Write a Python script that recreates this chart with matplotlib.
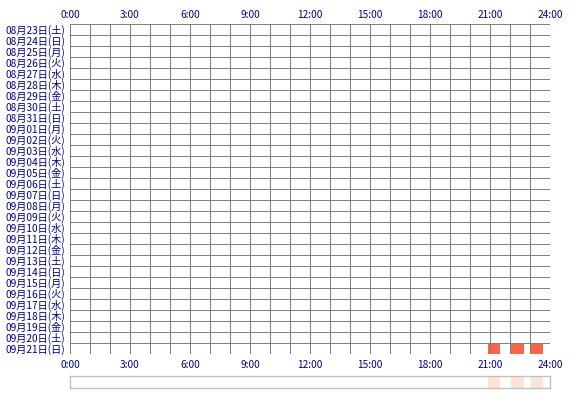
import matplotlib
matplotlib.use("Agg")
import matplotlib.pyplot as plt

plt.rcParams['font.family'] = ['Noto Sans CJK JP', 'DejaVu Sans']

days = ["08月23日(土)", "08月24日(日)", "08月25日(月)", "08月26日(火)", "08月27日(水)",
        "08月28日(木)", "08月29日(金)", "08月30日(土)", "08月31日(日)", "09月01日(月)",
        "09月02日(火)", "09月03日(水)", "09月04日(木)", "09月05日(金)", "09月06日(土)",
        "09月07日(日)", "09月08日(月)", "09月09日(火)", "09月10日(水)", "09月11日(木)",
        "09月12日(金)", "09月13日(土)", "09月14日(日)", "09月15日(月)", "09月16日(火)",
        "09月17日(水)", "09月18日(木)", "09月19日(金)", "09月20日(土)", "09月21日(日)"]
hour_ticks = [0, 3, 6, 9, 12, 15, 18, 21, 24]
hour_labels = ["0:00", "3:00", "6:00", "9:00", "12:00", "15:00", "18:00", "21:00", "24:00"]

# activity blocks: day index, start hour, end hour
act_day = [29, 29, 29]
act_start = [20.88, 22.03, 23.05]
act_end = [21.52, 22.70, 23.65]

W, H = 570, 400
fig = plt.figure(figsize=(W / 100, H / 100), dpi=100)
navy = "#000080"
gridc = "#808080"

ax = fig.add_axes([70 / W, (H - 354) / H, 480 / W, 330 / H])
ax.set_xlim(0, 24)
ax.set_ylim(len(days), 0)
for d, s, e in zip(act_day, act_start, act_end):
    ax.barh(d + 0.5, e - s, left=s, height=1.0, color="#ff6347", zorder=1)
ax.vlines(range(25), 0, len(days), color=gridc, lw=0.72, zorder=2, antialiased=False)
ax.hlines(range(len(days) + 1), 0, 24, color=gridc, lw=0.72, zorder=2, antialiased=False)
for sp in ax.spines.values():
    sp.set_visible(False)
ax.set_xticks([])
ax.set_yticks([])

for t, lab in zip(hour_ticks, hour_labels):
    ax.text(t, -0.8, lab, ha="center", va="center", color=navy, fontsize=7.3)
    ax.text(t, len(days) + 1.0, lab, ha="center", va="center", color=navy, fontsize=7.3)
for i, lab in enumerate(days):
    ax.text(-0.25, i + 0.55, lab, ha="right", va="center", color=navy, fontsize=7.3)

# summary strip
ax2 = fig.add_axes([70 / W, (H - 388) / H, 480 / W, 12 / H])
ax2.set_xlim(0, 24)
ax2.set_ylim(0, 1)
for s, e in zip(act_start, act_end):
    ax2.barh(0.5, e - s, left=s, height=1.0, color="#ffe4d4")
for sp in ax2.spines.values():
    sp.set_color("#c0c0c0")
    sp.set_linewidth(1.0)
ax2.set_xticks([])
ax2.set_yticks([])

fig.savefig("out.png", dpi=100)
